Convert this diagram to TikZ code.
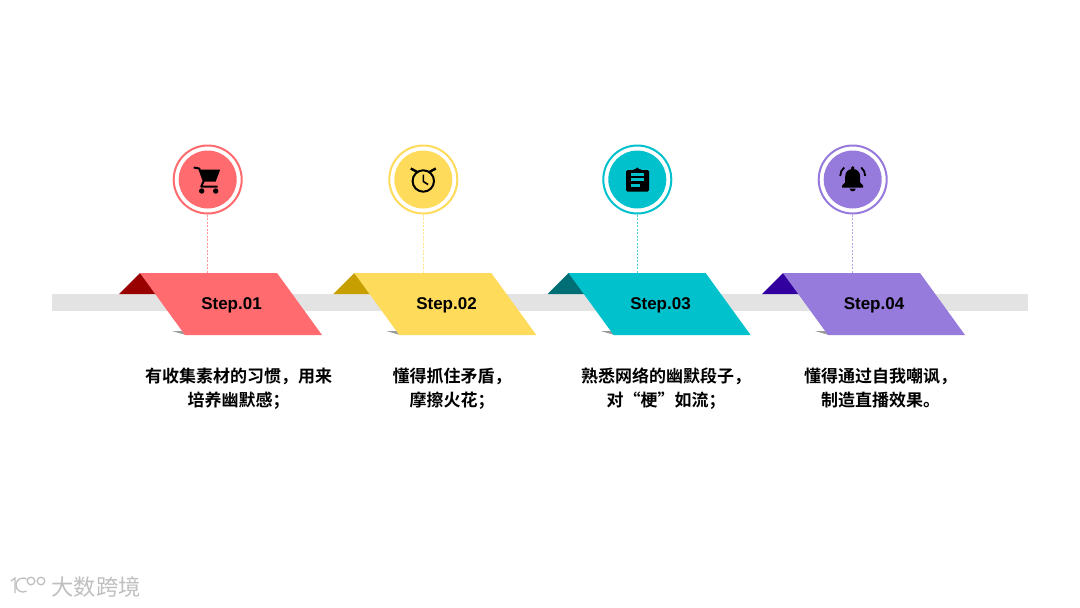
\documentclass[tikz,border=0pt]{standalone}
\usepackage{fontspec}
\usepackage{xcolor}
\setmainfont{Liberation Sans}
\newfontfamily\cjkbold{Noto Sans CJK SC Bold}
\newfontfamily\cjkplain{Noto Sans CJK SC}
\definecolor{barcol}{HTML}{E3E3E3}
\definecolor{redmain}{HTML}{FF6B6F}
\definecolor{reddark}{HTML}{990000}
\definecolor{yelmain}{HTML}{FFDB5C}
\definecolor{yeldark}{HTML}{C79F00}
\definecolor{tealmain}{HTML}{00C1CC}
\definecolor{tealdark}{HTML}{006F75}
\definecolor{purmain}{HTML}{967ADC}
\definecolor{purdark}{HTML}{3300A0}

\begin{document}
\begin{tikzpicture}[
    x=1pt,y=-1pt,
    ring/.style={circle,draw,line width=2pt,fill=white,minimum size=68pt,inner sep=0pt},
    disc/.style={circle,minimum size=58pt,inner sep=0pt},
    stem/.style={line width=1.5pt,dash pattern=on 2pt off 1.5pt},
    steplabel/.style={font=\bfseries\fontsize{17pt}{18pt}\selectfont,text=black},
    note/.style={align=center,font=\cjkbold\fontsize{17pt}{24.3pt}\selectfont,text=black},
    logoline/.style={black!25,line width=1.3pt}
]
\useasboundingbox (0,0) rectangle (1080,608);
\fill[white] (0,0) rectangle (1080,608);
\fill[barcol] (52,294) rectangle (1028,311);
\foreach \i/\off/\cx/\lx/\mcol/\dcol/\lbl in {1/0/207.7/231.5/redmain/reddark/Step.01,2/214.3/423.3/446.5/yelmain/yeldark/Step.02,3/428.6/637.3/660.5/tealmain/tealdark/Step.03,4/643/852.7/874/purmain/purdark/Step.04}{
    \begin{scope}[xshift=\off pt]
    \fill[black!40] (172,331) -- (182,331) -- (186,335) -- cycle;
    \fill[\dcol] (119,294) -- (140,273) -- (157,294) -- cycle;
    \fill[\mcol] (140,273) -- (277,273) -- (322,335) -- (185,335) -- cycle;
    \end{scope}
    \coordinate (top\i) at (\cx,273);
    \node[steplabel] (step\i) at (\lx,305.5) {\lbl};
    \node[ring,draw=\mcol] (ring\i) at (\cx,179.5) {};
    \node[disc,fill=\mcol] (disc\i) at (ring\i) {};
    \draw[stem,\mcol!70] (ring\i.south) -- (top\i);
}
% cart
\begin{scope}[shift={(207.7,179.5)}]
\draw[line width=2pt,line join=round] (-14,-12) -- (-8.5,-11) -- (-4,1.5) -- (-6.5,7) -- (10,7);
\fill (-8,-10) -- (12.5,-10) -- (8,2) -- (-4,2) -- cycle;
\fill (-6,11.5) circle (2.7);
\fill (8,11.5) circle (2.7);
\end{scope}
% clock
\begin{scope}[shift={(423.3,179.5)}]
\draw[line width=2pt] (0,1.5) circle (10.7);
\draw[line width=1.6pt] (0,-5) -- (0,2) -- (4.8,5);
\draw[line width=2.4pt] (-12.5,-11) -- (-6,-7.5);
\draw[line width=2.4pt] (12.5,-11) -- (6,-7.5);
\end{scope}
% clipboard
\begin{scope}[shift={(637.3,179.5)}]
\fill[rounded corners=1.5pt] (-11.3,-9.5) rectangle (11.7,12.2);
\fill[rounded corners=1pt] (-4,-10.5) rectangle (4,-7);
\fill (0,-10.5) circle (1.6);
\fill[tealmain] (-6.5,-6.6) rectangle (7,-4);
\fill[tealmain] (-6.5,-1.3) rectangle (7,1.3);
\fill[tealmain] (-6.5,4.7) rectangle (3,7.3);
\end{scope}
% bell
\begin{scope}[shift={(852.7,179.5)}]
\fill (0,-11.5) circle (1.8);
\fill (-10.5,8) -- (-10.5,6) -- (-7.5,3) -- (-7.5,-3) .. controls (-7.5,-8) and (-4,-10.5) .. (0,-10.5) .. controls (4,-10.5) and (7.5,-8) .. (7.5,-3) -- (7.5,3) -- (10.5,6) -- (10.5,8) -- cycle;
\fill (-3,9.2) -- (3,9.2) arc (0:180:3 and 2.6) -- cycle;
\draw[line width=1.8pt] (-12.5,-3.5) .. controls (-12.5,-7) and (-11,-10) .. (-8.5,-12);
\draw[line width=1.8pt] (12.5,-3.5) .. controls (12.5,-7) and (11,-10) .. (8.5,-12);
\end{scope}
\node[note] (note1) at (238.5,388.8) {有收集素材的习惯，用来\\培养幽默感；};
\node[note] (note2) at (452,388.8) {懂得抓住矛盾，\\摩擦火花；};
\node[note] (note3) at (666,388.8) {熟悉网络的幽默段子，\\对“梗”如流；};
\node[note] (note4) at (880.5,388.3) {懂得通过自我嘲讽，\\制造直播效果。};
% logo
\draw[logoline] (11,581) -- (15,578) -- (15,593);
\draw[logoline] (26.5,579) arc (-60:-300:7);
\draw[logoline] (31,581) circle (3.8);
\draw[logoline] (41,581) circle (3.8);
\node[font=\cjkplain\fontsize{22.3pt}{24pt}\selectfont,text=black!25,inner sep=0pt] (wmtext) at (96,587) {大数跨境};
\end{tikzpicture}
\end{document}
